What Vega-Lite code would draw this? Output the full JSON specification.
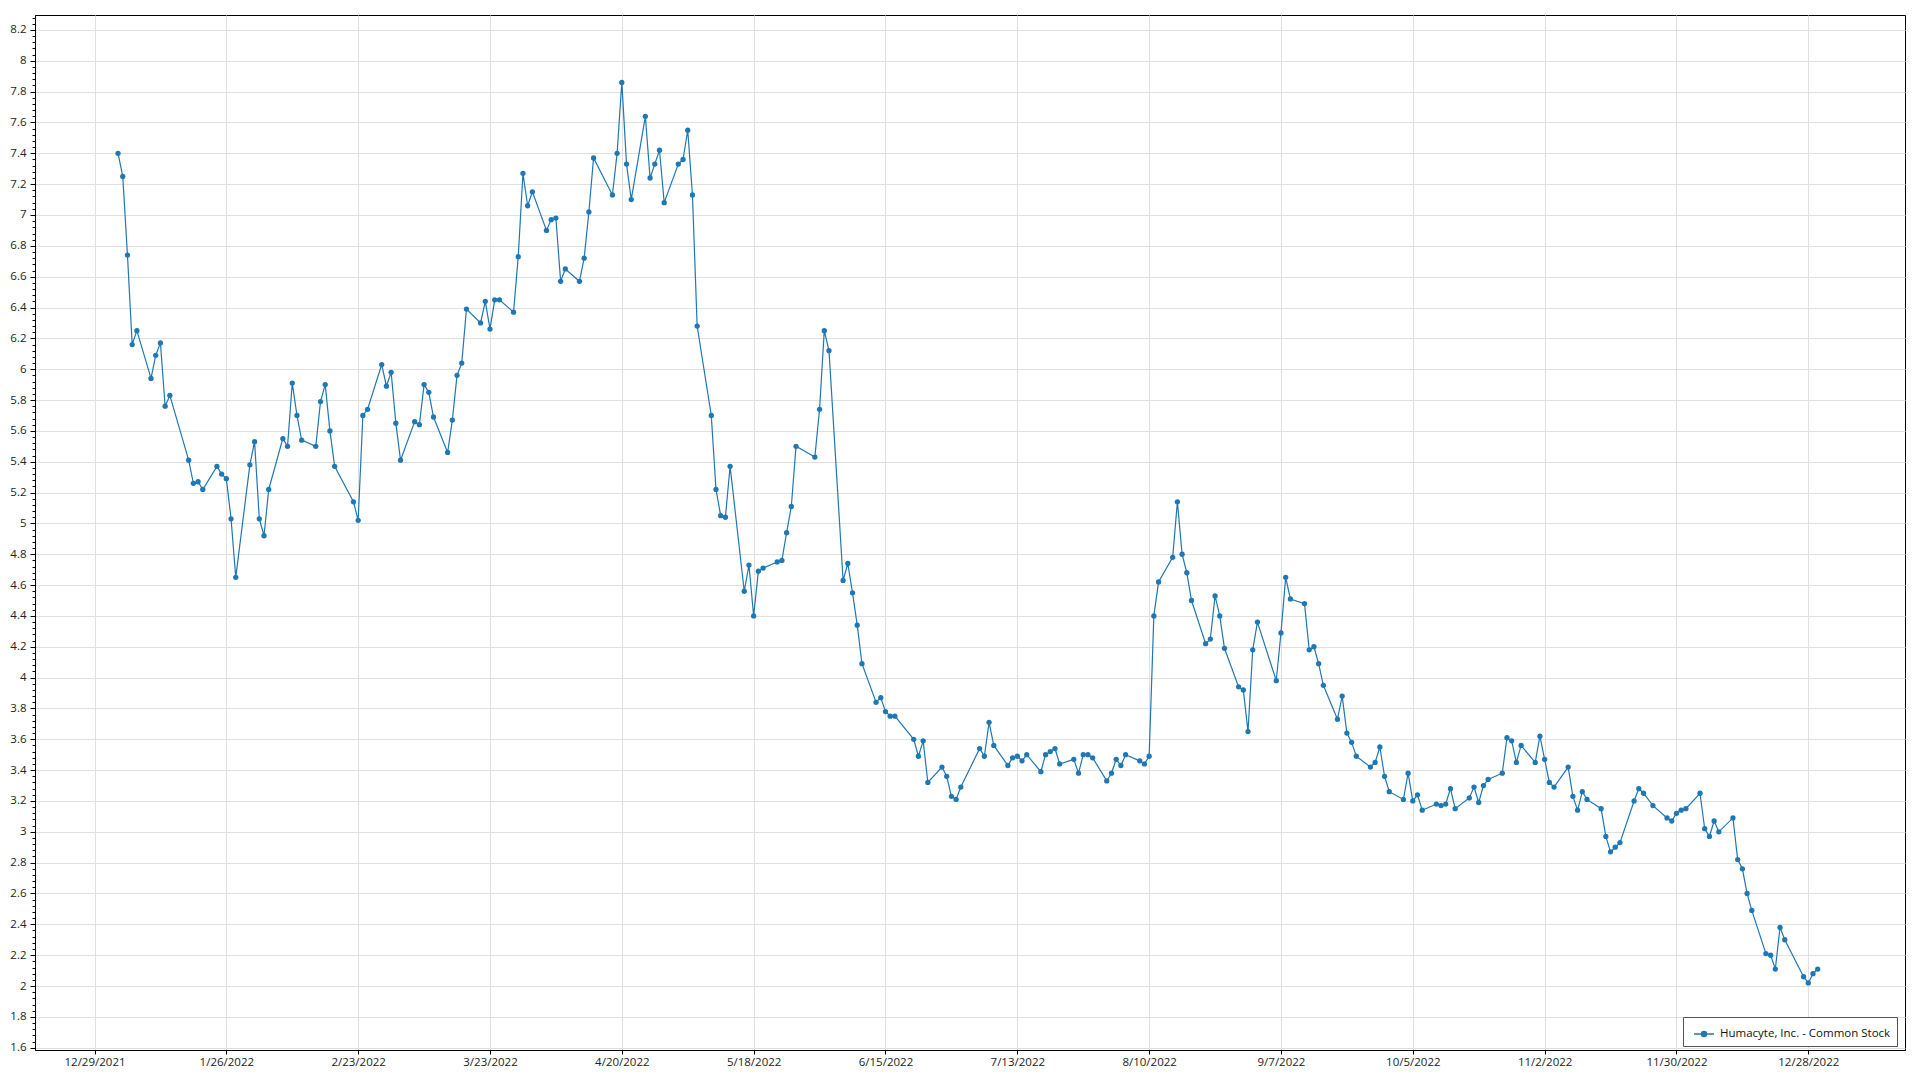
{
  "$schema": "https://vega.github.io/schema/vega-lite/v6.json",
  "width": 1870,
  "height": 1035,
  "autosize": {"type": "none"},
  "padding": {"left": 35, "top": 15, "right": 15, "bottom": 30},
  "background": "white",
  "config": {"view": {"stroke": "#000000", "strokeWidth": 1}, "font": "Open Sans"},
  "data": {
    "format": {"parse": {"date": "date:'%Y-%m-%d'"}},
    "values": [
      {"date": "2022-01-03", "close": 7.40}, {"date": "2022-01-04", "close": 7.25}, {"date": "2022-01-05", "close": 6.74}, {"date": "2022-01-06", "close": 6.16}, {"date": "2022-01-07", "close": 6.25},
      {"date": "2022-01-10", "close": 5.94}, {"date": "2022-01-11", "close": 6.09}, {"date": "2022-01-12", "close": 6.17}, {"date": "2022-01-13", "close": 5.76}, {"date": "2022-01-14", "close": 5.83},
      {"date": "2022-01-18", "close": 5.41}, {"date": "2022-01-19", "close": 5.26}, {"date": "2022-01-20", "close": 5.27}, {"date": "2022-01-21", "close": 5.22},
      {"date": "2022-01-24", "close": 5.37}, {"date": "2022-01-25", "close": 5.32}, {"date": "2022-01-26", "close": 5.29}, {"date": "2022-01-27", "close": 5.03}, {"date": "2022-01-28", "close": 4.65},
      {"date": "2022-01-31", "close": 5.38}, {"date": "2022-02-01", "close": 5.53}, {"date": "2022-02-02", "close": 5.03}, {"date": "2022-02-03", "close": 4.92}, {"date": "2022-02-04", "close": 5.22},
      {"date": "2022-02-07", "close": 5.55}, {"date": "2022-02-08", "close": 5.50}, {"date": "2022-02-09", "close": 5.91}, {"date": "2022-02-10", "close": 5.70}, {"date": "2022-02-11", "close": 5.54},
      {"date": "2022-02-14", "close": 5.50}, {"date": "2022-02-15", "close": 5.79}, {"date": "2022-02-16", "close": 5.90}, {"date": "2022-02-17", "close": 5.60}, {"date": "2022-02-18", "close": 5.37},
      {"date": "2022-02-22", "close": 5.14}, {"date": "2022-02-23", "close": 5.02}, {"date": "2022-02-24", "close": 5.70}, {"date": "2022-02-25", "close": 5.74},
      {"date": "2022-02-28", "close": 6.03}, {"date": "2022-03-01", "close": 5.89}, {"date": "2022-03-02", "close": 5.98}, {"date": "2022-03-03", "close": 5.65}, {"date": "2022-03-04", "close": 5.41},
      {"date": "2022-03-07", "close": 5.66}, {"date": "2022-03-08", "close": 5.64}, {"date": "2022-03-09", "close": 5.90}, {"date": "2022-03-10", "close": 5.85}, {"date": "2022-03-11", "close": 5.69},
      {"date": "2022-03-14", "close": 5.46}, {"date": "2022-03-15", "close": 5.67}, {"date": "2022-03-16", "close": 5.96}, {"date": "2022-03-17", "close": 6.04}, {"date": "2022-03-18", "close": 6.39},
      {"date": "2022-03-21", "close": 6.30}, {"date": "2022-03-22", "close": 6.44}, {"date": "2022-03-23", "close": 6.26}, {"date": "2022-03-24", "close": 6.45}, {"date": "2022-03-25", "close": 6.45},
      {"date": "2022-03-28", "close": 6.37}, {"date": "2022-03-29", "close": 6.73}, {"date": "2022-03-30", "close": 7.27}, {"date": "2022-03-31", "close": 7.06}, {"date": "2022-04-01", "close": 7.15},
      {"date": "2022-04-04", "close": 6.90}, {"date": "2022-04-05", "close": 6.97}, {"date": "2022-04-06", "close": 6.98}, {"date": "2022-04-07", "close": 6.57}, {"date": "2022-04-08", "close": 6.65},
      {"date": "2022-04-11", "close": 6.57}, {"date": "2022-04-12", "close": 6.72}, {"date": "2022-04-13", "close": 7.02}, {"date": "2022-04-14", "close": 7.37},
      {"date": "2022-04-18", "close": 7.13}, {"date": "2022-04-19", "close": 7.40}, {"date": "2022-04-20", "close": 7.86}, {"date": "2022-04-21", "close": 7.33}, {"date": "2022-04-22", "close": 7.10},
      {"date": "2022-04-25", "close": 7.64}, {"date": "2022-04-26", "close": 7.24}, {"date": "2022-04-27", "close": 7.33}, {"date": "2022-04-28", "close": 7.42}, {"date": "2022-04-29", "close": 7.08},
      {"date": "2022-05-02", "close": 7.33}, {"date": "2022-05-03", "close": 7.36}, {"date": "2022-05-04", "close": 7.55}, {"date": "2022-05-05", "close": 7.13}, {"date": "2022-05-06", "close": 6.28},
      {"date": "2022-05-09", "close": 5.70}, {"date": "2022-05-10", "close": 5.22}, {"date": "2022-05-11", "close": 5.05}, {"date": "2022-05-12", "close": 5.04}, {"date": "2022-05-13", "close": 5.37},
      {"date": "2022-05-16", "close": 4.56}, {"date": "2022-05-17", "close": 4.73}, {"date": "2022-05-18", "close": 4.40}, {"date": "2022-05-19", "close": 4.69}, {"date": "2022-05-20", "close": 4.71},
      {"date": "2022-05-23", "close": 4.75}, {"date": "2022-05-24", "close": 4.76}, {"date": "2022-05-25", "close": 4.94}, {"date": "2022-05-26", "close": 5.11}, {"date": "2022-05-27", "close": 5.50},
      {"date": "2022-05-31", "close": 5.43}, {"date": "2022-06-01", "close": 5.74}, {"date": "2022-06-02", "close": 6.25}, {"date": "2022-06-03", "close": 6.12},
      {"date": "2022-06-06", "close": 4.63}, {"date": "2022-06-07", "close": 4.74}, {"date": "2022-06-08", "close": 4.55}, {"date": "2022-06-09", "close": 4.34}, {"date": "2022-06-10", "close": 4.09},
      {"date": "2022-06-13", "close": 3.84}, {"date": "2022-06-14", "close": 3.87}, {"date": "2022-06-15", "close": 3.78}, {"date": "2022-06-16", "close": 3.75}, {"date": "2022-06-17", "close": 3.75},
      {"date": "2022-06-21", "close": 3.60}, {"date": "2022-06-22", "close": 3.49}, {"date": "2022-06-23", "close": 3.59}, {"date": "2022-06-24", "close": 3.32},
      {"date": "2022-06-27", "close": 3.42}, {"date": "2022-06-28", "close": 3.36}, {"date": "2022-06-29", "close": 3.23}, {"date": "2022-06-30", "close": 3.21}, {"date": "2022-07-01", "close": 3.29},
      {"date": "2022-07-05", "close": 3.54}, {"date": "2022-07-06", "close": 3.49}, {"date": "2022-07-07", "close": 3.71}, {"date": "2022-07-08", "close": 3.56},
      {"date": "2022-07-11", "close": 3.43}, {"date": "2022-07-12", "close": 3.48}, {"date": "2022-07-13", "close": 3.49}, {"date": "2022-07-14", "close": 3.46}, {"date": "2022-07-15", "close": 3.50},
      {"date": "2022-07-18", "close": 3.39}, {"date": "2022-07-19", "close": 3.50}, {"date": "2022-07-20", "close": 3.52}, {"date": "2022-07-21", "close": 3.54}, {"date": "2022-07-22", "close": 3.44},
      {"date": "2022-07-25", "close": 3.47}, {"date": "2022-07-26", "close": 3.38}, {"date": "2022-07-27", "close": 3.50}, {"date": "2022-07-28", "close": 3.50}, {"date": "2022-07-29", "close": 3.48},
      {"date": "2022-08-01", "close": 3.33}, {"date": "2022-08-02", "close": 3.38}, {"date": "2022-08-03", "close": 3.47}, {"date": "2022-08-04", "close": 3.43}, {"date": "2022-08-05", "close": 3.50},
      {"date": "2022-08-08", "close": 3.46}, {"date": "2022-08-09", "close": 3.44}, {"date": "2022-08-10", "close": 3.49}, {"date": "2022-08-11", "close": 4.40}, {"date": "2022-08-12", "close": 4.62},
      {"date": "2022-08-15", "close": 4.78}, {"date": "2022-08-16", "close": 5.14}, {"date": "2022-08-17", "close": 4.80}, {"date": "2022-08-18", "close": 4.68}, {"date": "2022-08-19", "close": 4.50},
      {"date": "2022-08-22", "close": 4.22}, {"date": "2022-08-23", "close": 4.25}, {"date": "2022-08-24", "close": 4.53}, {"date": "2022-08-25", "close": 4.40}, {"date": "2022-08-26", "close": 4.19},
      {"date": "2022-08-29", "close": 3.94}, {"date": "2022-08-30", "close": 3.92}, {"date": "2022-08-31", "close": 3.65}, {"date": "2022-09-01", "close": 4.18}, {"date": "2022-09-02", "close": 4.36},
      {"date": "2022-09-06", "close": 3.98}, {"date": "2022-09-07", "close": 4.29}, {"date": "2022-09-08", "close": 4.65}, {"date": "2022-09-09", "close": 4.51},
      {"date": "2022-09-12", "close": 4.48}, {"date": "2022-09-13", "close": 4.18}, {"date": "2022-09-14", "close": 4.20}, {"date": "2022-09-15", "close": 4.09}, {"date": "2022-09-16", "close": 3.95},
      {"date": "2022-09-19", "close": 3.73}, {"date": "2022-09-20", "close": 3.88}, {"date": "2022-09-21", "close": 3.64}, {"date": "2022-09-22", "close": 3.58}, {"date": "2022-09-23", "close": 3.49},
      {"date": "2022-09-26", "close": 3.42}, {"date": "2022-09-27", "close": 3.45}, {"date": "2022-09-28", "close": 3.55}, {"date": "2022-09-29", "close": 3.36}, {"date": "2022-09-30", "close": 3.26},
      {"date": "2022-10-03", "close": 3.21}, {"date": "2022-10-04", "close": 3.38}, {"date": "2022-10-05", "close": 3.20}, {"date": "2022-10-06", "close": 3.24}, {"date": "2022-10-07", "close": 3.14},
      {"date": "2022-10-10", "close": 3.18}, {"date": "2022-10-11", "close": 3.17}, {"date": "2022-10-12", "close": 3.18}, {"date": "2022-10-13", "close": 3.28}, {"date": "2022-10-14", "close": 3.15},
      {"date": "2022-10-17", "close": 3.22}, {"date": "2022-10-18", "close": 3.29}, {"date": "2022-10-19", "close": 3.19}, {"date": "2022-10-20", "close": 3.30}, {"date": "2022-10-21", "close": 3.34},
      {"date": "2022-10-24", "close": 3.38}, {"date": "2022-10-25", "close": 3.61}, {"date": "2022-10-26", "close": 3.59}, {"date": "2022-10-27", "close": 3.45}, {"date": "2022-10-28", "close": 3.56},
      {"date": "2022-10-31", "close": 3.45}, {"date": "2022-11-01", "close": 3.62}, {"date": "2022-11-02", "close": 3.47}, {"date": "2022-11-03", "close": 3.32}, {"date": "2022-11-04", "close": 3.29},
      {"date": "2022-11-07", "close": 3.42}, {"date": "2022-11-08", "close": 3.23}, {"date": "2022-11-09", "close": 3.14}, {"date": "2022-11-10", "close": 3.26}, {"date": "2022-11-11", "close": 3.21},
      {"date": "2022-11-14", "close": 3.15}, {"date": "2022-11-15", "close": 2.97}, {"date": "2022-11-16", "close": 2.87}, {"date": "2022-11-17", "close": 2.90}, {"date": "2022-11-18", "close": 2.93},
      {"date": "2022-11-21", "close": 3.20}, {"date": "2022-11-22", "close": 3.28}, {"date": "2022-11-23", "close": 3.25}, {"date": "2022-11-25", "close": 3.17},
      {"date": "2022-11-28", "close": 3.09}, {"date": "2022-11-29", "close": 3.07}, {"date": "2022-11-30", "close": 3.12}, {"date": "2022-12-01", "close": 3.14}, {"date": "2022-12-02", "close": 3.15},
      {"date": "2022-12-05", "close": 3.25}, {"date": "2022-12-06", "close": 3.02}, {"date": "2022-12-07", "close": 2.97}, {"date": "2022-12-08", "close": 3.07}, {"date": "2022-12-09", "close": 3.00},
      {"date": "2022-12-12", "close": 3.09}, {"date": "2022-12-13", "close": 2.82}, {"date": "2022-12-14", "close": 2.76}, {"date": "2022-12-15", "close": 2.60}, {"date": "2022-12-16", "close": 2.49},
      {"date": "2022-12-19", "close": 2.21}, {"date": "2022-12-20", "close": 2.20}, {"date": "2022-12-21", "close": 2.11}, {"date": "2022-12-22", "close": 2.38}, {"date": "2022-12-23", "close": 2.30},
      {"date": "2022-12-27", "close": 2.06}, {"date": "2022-12-28", "close": 2.02}, {"date": "2022-12-29", "close": 2.08}, {"date": "2022-12-30", "close": 2.11}
    ]
  },
  "encoding": {
    "x": {
      "field": "date",
      "type": "temporal",
      "scale": {"domain": [{"year": 2021, "month": 12, "date": 16, "hours": 8, "minutes": 40}, {"year": 2023, "month": 1, "date": 17, "hours": 13}]},
      "axis": {
        "title": null,
        "values": [
          {"year": 2021, "month": 12, "date": 29}, {"year": 2022, "month": 1, "date": 26}, {"year": 2022, "month": 2, "date": 23}, {"year": 2022, "month": 3, "date": 23},
          {"year": 2022, "month": 4, "date": 20}, {"year": 2022, "month": 5, "date": 18}, {"year": 2022, "month": 6, "date": 15}, {"year": 2022, "month": 7, "date": 13},
          {"year": 2022, "month": 8, "date": 10}, {"year": 2022, "month": 9, "date": 7}, {"year": 2022, "month": 10, "date": 5}, {"year": 2022, "month": 11, "date": 2},
          {"year": 2022, "month": 11, "date": 30}, {"year": 2022, "month": 12, "date": 28}
        ],
        "format": "%-m/%-d/%Y",
        "labelFont": "Open Sans",
        "labelFontSize": 11.5,
        "labelColor": "#222222",
        "labelPadding": 2,
        "labelOverlap": false,
        "labelFlush": false,
        "tickSize": 4,
        "tickColor": "#000000",
        "domainColor": "#000000",
        "grid": true,
        "gridColor": "#e0e0e0",
        "gridWidth": 1
      }
    },
    "color": {
      "datum": "Humacyte, Inc. - Common Stock",
      "type": "nominal",
      "scale": {"range": ["#1f77b4"]},
      "legend": {
        "title": null,
        "orient": "none",
        "legendX": 1648,
        "legendY": 1002,
        "padding": 6,
        "symbolOffset": 4,
        "fillColor": "#ffffff",
        "strokeColor": "#555555",
        "symbolType": "M-1,0L1,0M-0.25,0A0.25,0.25,0,1,1,0.25,0A0.25,0.25,0,1,1,-0.25,0Z",
        "symbolSize": 400,
        "symbolStrokeWidth": 1.5,
        "symbolFillColor": "#1f77b4",
        "symbolStrokeColor": "#1f77b4",
        "labelFont": "Open Sans",
        "labelFontSize": 11.5,
        "labelColor": "#111111",
        "labelOffset": 5,
        "labelLimit": 400
      }
    }
  },
  "layer": [
    {
      "mark": {"type": "line", "strokeWidth": 1.2},
      "encoding": {
        "y": {
          "field": "close",
          "type": "quantitative",
          "scale": {"domain": [1.585, 8.297], "nice": false, "zero": false},
          "axis": {
            "title": null,
            "orient": "left",
            "values": [1.6, 1.8, 2, 2.2, 2.4, 2.6, 2.8, 3, 3.2, 3.4, 3.6, 3.8, 4, 4.2, 4.4, 4.6, 4.8, 5, 5.2, 5.4, 5.6, 5.8, 6, 6.2, 6.4, 6.6, 6.8, 7, 7.2, 7.4, 7.6, 7.8, 8, 8.2],
            "format": ".1~f",
            "labelFont": "Open Sans",
            "labelFontSize": 11.5,
            "labelColor": "#222222",
            "labelPadding": 4,
            "tickSize": 5,
            "tickColor": "#000000",
            "domainColor": "#000000",
            "grid": true,
            "gridColor": "#e0e0e0",
            "gridWidth": 1
          }
        }
      }
    },
    {
      "mark": {"type": "point", "filled": true, "size": 28, "opacity": 1},
      "encoding": {
        "y": {
          "field": "close",
          "type": "quantitative",
          "scale": {"domain": [1.585, 8.297], "nice": false, "zero": false},
          "axis": {
            "title": null,
            "orient": "left",
            "values": [1.64,1.68,1.72,1.76,1.84,1.88,1.92,1.96,2.04,2.08,2.12,2.16,2.24,2.28,2.32,2.36,2.44,2.48,2.52,2.56,2.64,2.68,2.72,2.76,2.84,2.88,2.92,2.96,3.04,3.08,3.12,3.16,3.24,3.28,3.32,3.36,3.44,3.48,3.52,3.56,3.64,3.68,3.72,3.76,3.84,3.88,3.92,3.96,4.04,4.08,4.12,4.16,4.24,4.28,4.32,4.36,4.44,4.48,4.52,4.56,4.64,4.68,4.72,4.76,4.84,4.88,4.92,4.96,5.04,5.08,5.12,5.16,5.24,5.28,5.32,5.36,5.44,5.48,5.52,5.56,5.64,5.68,5.72,5.76,5.84,5.88,5.92,5.96,6.04,6.08,6.12,6.16,6.24,6.28,6.32,6.36,6.44,6.48,6.52,6.56,6.64,6.68,6.72,6.76,6.84,6.88,6.92,6.96,7.04,7.08,7.12,7.16,7.24,7.28,7.32,7.36,7.44,7.48,7.52,7.56,7.64,7.68,7.72,7.76,7.84,7.88,7.92,7.96,8.04,8.08,8.12,8.16,8.24,8.28],
            "labels": false,
            "grid": false,
            "domain": false,
            "tickSize": 3,
            "tickColor": "#000000"
          }
        }
      }
    }
  ],
  "resolve": {"axis": {"y": "independent"}}
}
